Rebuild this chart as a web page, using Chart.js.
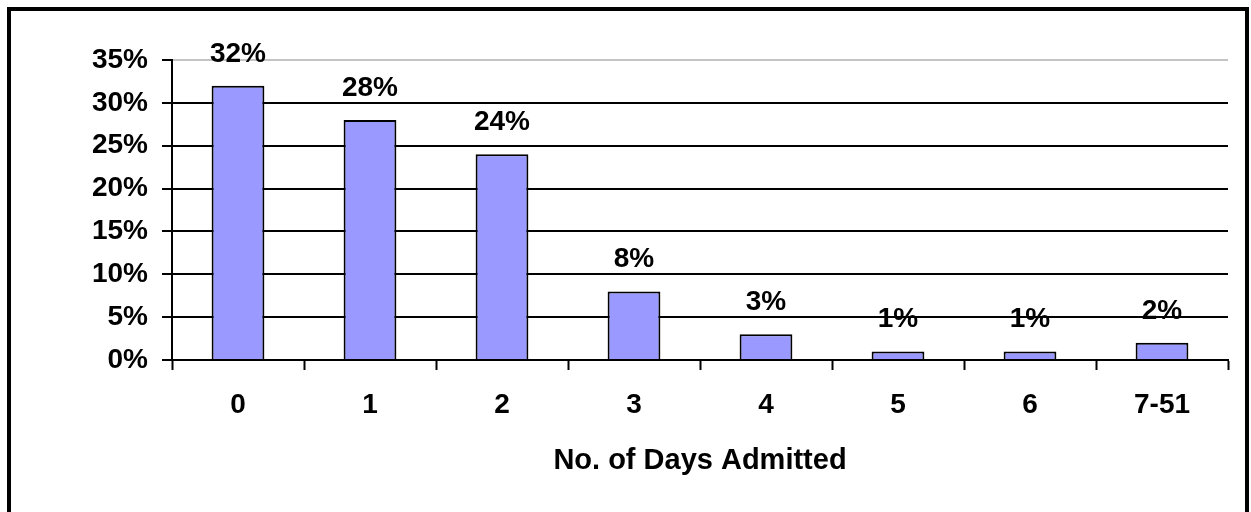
<!DOCTYPE html>
<html>
<head>
<meta charset="utf-8">
<script src="https://cdn.jsdelivr.net/npm/chart.js@4.4.1/dist/chart.umd.min.js"></script>
<style>
  html, body { margin: 0; padding: 0; background: #fff; overflow: hidden; }
  #frame {
    position: absolute; left: 7px; top: 7px; width: 1234px; height: 600px;
    border: 4px solid #000; border-bottom: none;
  }
  #wrap { position: absolute; left: 0; top: 0; width: 1251px; height: 512px; }
</style>
</head>
<body>
<div id="frame"></div>
<div id="wrap"><canvas id="chart"></canvas></div>
<script>
// 資料
var categories = ['0', '1', '2', '3', '4', '5', '6', '7-51'];
var percentValues = [32, 28, 24, 8, 3, 1, 1, 2];
var yTicks = [0, 5, 10, 15, 20, 25, 30, 35];
var xAxisTitle = 'No. of Days Admitted';

var FONT = '"Liberation Sans", Arial, Helvetica, sans-serif';

// 在長條上方寫百分比
var barLabels = {
  id: 'barLabels',
  afterDraw: function(chart) {
    var ctx = chart.ctx;
    var meta = chart.getDatasetMeta(0);
    ctx.save();
    ctx.font = 'bold 28px ' + FONT;
    ctx.fillStyle = '#000';
    ctx.textAlign = 'center';
    ctx.textBaseline = 'alphabetic';
    meta.data.forEach(function(bar, i) {
      ctx.fillText(percentValues[i] + '%', bar.x, bar.y - 24);
    });
    ctx.restore();
  }
};

new Chart(document.getElementById('chart'), {
  type: 'bar',
  data: {
    labels: categories,
    datasets: [{
      data: percentValues,
      backgroundColor: '#9999ff',
      borderColor: '#000',
      borderWidth: 2,
      barPercentage: 0.4,
      categoryPercentage: 1.0
    }]
  },
  options: {
    responsive: true,
    maintainAspectRatio: false,
    animation: false,
    layout: { padding: { left: 0, right: 23, top: 60, bottom: 0 } },
    plugins: {
      legend: { display: false },
      tooltip: { enabled: false }
    },
    scales: {
      x: {
        afterFit: function(scale) { scale.height = 152; },
        grid: {
          offset: true,
          drawOnChartArea: false,
          drawTicks: true,
          tickLength: 10,
          tickColor: '#000',
          tickWidth: 2
        },
        border: { color: '#000', width: 2 },
        ticks: {
          padding: 18,
          color: '#000',
          font: { family: FONT, size: 28, weight: 'bold' }
        },
        title: {
          display: true,
          text: xAxisTitle,
          color: '#000',
          font: { family: FONT, size: 29, weight: 'bold' },
          padding: { top: 0, bottom: 34 }
        }
      },
      y: {
        min: 0,
        max: 35,
        afterFit: function(scale) { scale.width = 172; },
        afterBuildTicks: function(scale) {
          scale.ticks = yTicks.map(function(v) { return { value: v }; });
        },
        grid: {
          color: function(c) { return c.tick && c.tick.value === 35 ? '#c4c4c4' : '#000'; },
          lineWidth: 2,
          drawTicks: true,
          tickLength: 10,
          tickColor: '#000',
          tickWidth: 2
        },
        border: { color: '#000', width: 2 },
        ticks: {
          padding: 14,
          color: '#000',
          font: { family: FONT, size: 28, weight: 'bold' },
          callback: function(v) { return v + '%'; }
        }
      }
    }
  },
  plugins: [barLabels]
});
</script>
</body>
</html>
